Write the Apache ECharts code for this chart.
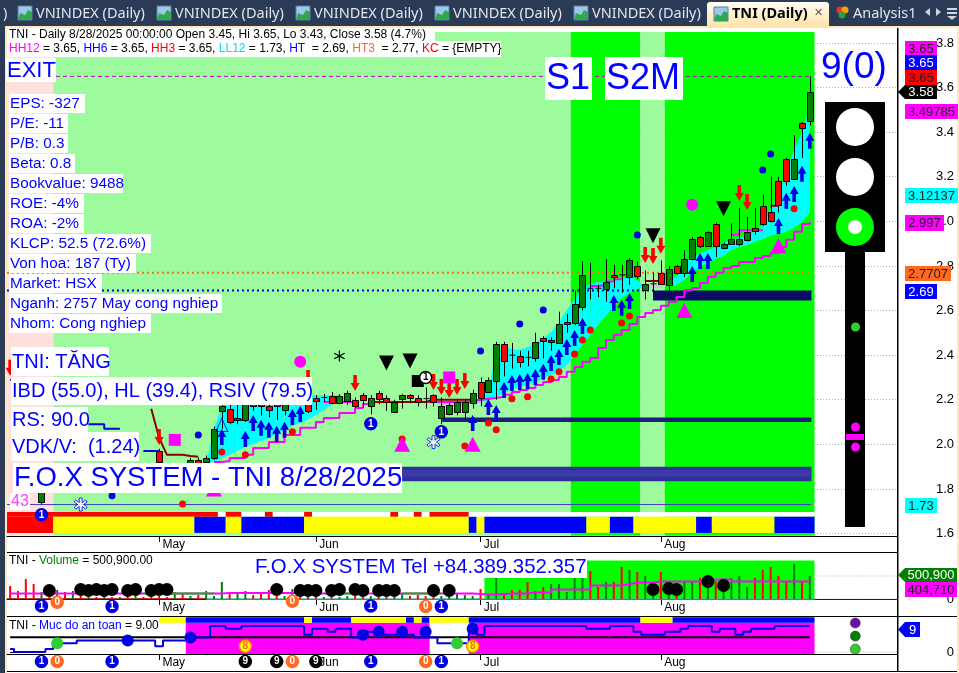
<!DOCTYPE html>
<html>
<head>
<meta charset="utf-8">
<title>TNI (Daily)</title>
<script src="https://cdn.jsdelivr.net/npm/echarts@6/dist/echarts.min.js"></script>
<style>
  html, body { margin: 0; padding: 0; background: #2b3a55; }
  #main { width: 959px; height: 673px; }
</style>
</head>
<body>
<div id="main"></div>
<script>
// x is the bar number, 102 = 8/28/2025
var monthBars = [19, 39, 60, 83];
var monthNames = { 19: 'May', 39: 'Jun', 60: 'Jul', 83: 'Aug' };
var priceTicks = [1.6, 1.8, 2.0, 2.2, 2.4, 2.6, 2.8, 3.0, 3.2, 3.4, 3.6, 3.8];

// open, close, low, high. first entry is bar 4
var firstCandle = 4;
var candles = [
  [1.74,1.85,1.73,1.88],[1.9,1.87,1.85,1.91],[1.88,1.9,1.86,1.91],[1.9,1.87,1.85,1.91],[1.87,1.89,1.85,1.9],
  [1.89,1.86,1.84,1.9],[1.86,1.88,1.84,1.89],[1.88,1.85,1.83,1.89],[1.85,1.87,1.84,1.88],[1.87,1.85,1.83,1.88],
  [1.85,1.86,1.83,1.87],[1.86,1.84,1.82,1.87],[1.84,1.86,1.83,1.88],[1.86,1.84,1.82,1.88],[1.84,1.82,1.8,1.86],
  [1.97,1.92,1.9,1.98],[1.88,1.86,1.84,1.9],[1.86,1.87,1.84,1.89],[1.87,1.85,1.84,1.9],[1.91,1.93,1.9,1.94],
  [1.93,1.91,1.9,1.94],[1.92,1.94,1.91,1.95],[1.94,2.07,1.93,2.08],[2.15,2.17,2.07,2.18],[2.16,2.1,2.09,2.18],
  [2.11,2.12,2.09,2.18],[2.11,2.18,2.1,2.2],[2.18,2.17,2.15,2.22],[2.19,2.17,2.13,2.22],[2.17,2.155,2.12,2.2],
  [2.18,2.17,2.11,2.21],[2.155,2.18,2.13,2.2],[2.2,2.21,2.19,2.23],[2.23,2.21,2.2,2.24],[2.18,2.15,2.14,2.2],
  [2.21,2.195,2.155,2.22],[2.21,2.215,2.19,2.225],[2.215,2.185,2.18,2.235],[2.185,2.215,2.18,2.225],[2.195,2.23,2.177,2.24],
  [2.2,2.17,2.165,2.21],[2.22,2.2,2.165,2.23],[2.17,2.21,2.135,2.22],[2.23,2.205,2.18,2.24],[2.21,2.19,2.15,2.22],
  [2.145,2.19,2.14,2.2],[2.205,2.22,2.16,2.225],[2.22,2.21,2.185,2.225],[2.21,2.19,2.17,2.22],[2.205,2.2,2.16,2.255],
  [2.22,2.19,2.17,2.225],[2.12,2.17,2.09,2.21],[2.135,2.175,2.13,2.185],[2.145,2.19,2.13,2.2],[2.145,2.19,2.11,2.2],
  [2.185,2.23,2.16,2.245],[2.28,2.21,2.17,2.3],[2.235,2.29,2.23,2.3],[2.285,2.45,2.2,2.46],[2.45,2.375,2.305,2.46],
  [2.4,2.395,2.34,2.455],[2.395,2.37,2.345,2.42],[2.39,2.385,2.35,2.42],[2.385,2.46,2.37,2.5],[2.475,2.465,2.385,2.485],
  [2.46,2.47,2.42,2.48],[2.455,2.54,2.45,2.595],[2.54,2.55,2.5,2.585],[2.545,2.63,2.535,2.69],[2.615,2.76,2.6,2.82],
  [2.7,2.695,2.65,2.815],[2.7,2.695,2.66,2.715],[2.695,2.73,2.64,2.83],[2.76,2.75,2.7,2.805],[2.76,2.755,2.68,2.805],
  [2.75,2.825,2.715,2.835],[2.8,2.755,2.74,2.82],[2.69,2.72,2.65,2.78],[2.72,2.72,2.67,2.77],[2.77,2.72,2.715,2.825],
  [2.715,2.785,2.69,2.8],[2.8,2.77,2.76,2.805],[2.77,2.83,2.75,2.87],[2.83,2.92,2.825,2.93],[2.93,2.89,2.88,2.935],
  [2.89,2.95,2.885,2.955],[2.99,2.89,2.84,2.995],[2.88,2.9,2.875,2.905],[2.9,2.92,2.895,2.99],[2.9,2.92,2.89,3.06],
  [2.915,2.95,2.91,3.02],[2.97,2.955,2.94,3.06],[3.07,2.99,2.98,3.12],[3.04,3.0,2.995,3.2],[3.18,3.075,3.04,3.2],
  [3.28,3.18,3.16,3.285],[3.19,3.28,3.185,3.385],[3.44,3.42,3.285,3.445],[3.45,3.58,3.43,3.65]
];

// cloud edges, first entry is bar 25
var firstBand = 25;
var bandFast = [1.92,2.065,2.177,2.177,2.2,2.2,2.2,2.2,2.2,2.2,2.2,2.2,2.2,2.22,2.22,2.22,2.22,2.22,2.21,2.2,
  null,null,null,null,null,null,null,null,null,
  2.195,2.172,2.172,2.175,2.175,2.186,2.199,2.244,2.414,2.437,2.428,2.423,2.437,2.455,2.477,2.504,2.549,2.603,2.648,2.701,
  2.719,2.728,2.733,2.737,2.742,2.751,2.737,2.706,2.701,2.701,2.724,2.76,2.818,2.836,2.858,2.872,2.885,2.903,2.917,2.926,
  2.939,2.957,2.984,3.056,3.114,3.231,3.32,3.401,3.522];
var bandSlow = [1.92,1.92,1.939,1.953,1.97,1.988,2.002,2.015,2.029,2.047,2.065,2.083,2.096,2.11,2.132,2.154,2.177,2.19,2.199,2.2,
  null,null,null,null,null,null,null,null,null,
  2.195,2.19,2.2,2.2,2.2,2.186,2.186,2.195,2.213,2.231,2.244,2.257,2.266,2.28,2.298,2.311,2.329,2.352,2.401,2.446,
  2.491,2.536,2.576,2.616,2.657,2.679,2.697,2.71,2.719,2.728,2.71,2.715,2.737,2.769,2.796,2.813,2.831,2.845,2.872,2.885,
  2.894,2.908,2.921,2.935,2.944,2.953,2.97,2.997,3.042];

// pink step line, first entry is bar 26
var firstStop = 26;
var stopLine = [1.921,1.925,1.939,1.939,1.953,1.984,1.984,2.011,2.011,2.042,2.042,2.074,2.074,2.1,2.118,2.118,2.141,2.141,2.163,2.181,
  2.19,2.19,2.19,2.19,2.19,2.19,2.19,2.19,2.19,2.19,2.19,2.19,2.19,2.199,2.204,2.208,2.213,2.222,2.235,2.244,2.253,2.266,2.28,
  2.289,2.302,2.325,2.347,2.37,2.387,2.432,2.468,2.491,2.513,2.54,2.571,2.589,2.603,2.621,2.639,2.661,2.692,2.701,2.724,2.751,
  2.769,2.791,2.8,2.818,2.818,2.836,2.845,2.858,2.885,2.917,2.953,2.988,2.997];
var upperPink = [[40,2.19],[41,2.19],[42,2.19],[43,2.19],[44,null],[74,2.71],[75,2.715],[76,2.73],[77,2.74],[78,null],
  [92,2.94],[93,2.96],[94,2.96],[95,2.96],[96,null]];
var kcLine = [[18,2.16],[19,2.03],[20,1.953],[21,1.953],[22,1.953],[23,1.948],[24,1.944],[25,null],[29,2.11],[30,2.11],[31,null],
  [46,2.19],[47,2.19],[48,2.19],[49,2.19],[50,2.19],[51,2.19],[52,2.19],[53,2.19],[54,2.2],[55,2.2],[56,2.2],[57,2.2],[58,2.2],[59,2.2],[60,null],
  [81,2.733],[82,2.733],[83,2.733],[84,null],[97,3.07],[98,3.07]];
var leftStep = [[0,2.29],[1,null],[10,2.09],[11,2.09],[12,2.07],[13,2.07],[14,null],[17,1.97],[18,1.97],[19,1.95]];

var HH12 = 3.65, HT = 2.69, HT3 = 2.77, LL12 = 1.73;

var buyArrows = [[27,2.033],[30,2.024],[31,2.096],[32,2.074],[33,2.065],[34,2.047],[35,2.065],[36,2.123],[37,2.136],[59,2.096],
  [61,2.168],[62,2.141],[63,2.244],[64,2.275],[65,2.28],[66,2.284],[67,2.302],[68,2.325],[69,2.365],[70,2.392],[71,2.437],[72,2.477],
  [73,2.531],[77,2.634],[78,2.612],[79,2.643],[87,2.764],[88,2.822],[89,2.822],[98,2.979],[99,3.092],[100,3.123],[101,3.213],[102,3.361]];
var sellArrows = [[0,2.343],[19,2.033],[38,2.298],[44,2.275],[54,2.28],[55,2.257],[56,2.244],[57,2.257],[58,2.284],[81,2.849],[82,2.845],[83,2.89],[93,3.127],[94,3.087]];
var redDots = [[22,1.733],[27,1.966],[30,1.953],[36,2.056],[50,2.024],[58,1.993],[61,2.096],[62,2.065],[64,2.204],[66,2.213],[69,2.293],
  [70,2.325],[72,2.405],[73,2.468],[74,2.513],[78,2.544],[79,2.576],[100,3.056]];
var blueDots = [[13,1.77],[24,2.042],[60,2.419],[65,2.54],[68,2.603],[80,2.939],[96,3.23],[97,3.302]];
var pinkTriangles = [[26,1.8],[50,2.0],[59,2.0],[86,2.6],[98,2.89]];
var hollowTriangles = [[27,2.087]];
var pinkSquares = [[21,2.02],[56,2.3]];
var pinkCircles = [[37,2.37],[87,3.074]];
var blackTriangles = [[48,2.365],[51,2.374],[82,2.935],[91,3.056]];
var blackSquares = [[52,2.284]];
var blackStars = [[42,2.396]];
var blackRings = [[53,2.3]];
var blueOnes = [[4,1.684],[46,2.092],[55,2.056]];
var snowflakes = [[9,1.73],[54,2.01]];

// background zones: from bar, to bar, colour
var priceZones = [[-0.4,5.5,'#ffe0dc'],[5.5,71.5,'#9dfb9d'],[71.5,80.4,'#00ff00'],[80.4,83.5,'#9dfb9d'],[83.5,102.6,'#00ff00']];
var stripTop = [[-0.4,26.5,'#ff0000'],[26.5,27.5,'#ffffff'],[27.5,29.5,'#ff0000'],[29.5,32.5,'#ffffff'],[32.5,33.5,'#ff0000'],
  [33.5,37.5,'#ffffff'],[37.5,38.5,'#ff0000'],[38.5,48.5,'#ffffff'],[48.5,49.5,'#ff0000'],[49.5,51.5,'#ffffff'],[51.5,52.5,'#ff0000'],
  [52.5,53.5,'#ffffff'],[53.5,58.5,'#ff0000'],[58.5,102.6,'#ffffff']];
var stripBottom = [[-0.4,5.5,'#ff0000'],[5.5,23.5,'#ffff00'],[23.5,27.5,'#0000ff'],[27.5,29.5,'#ffff00'],[29.5,37.5,'#0000ff'],
  [37.5,58.5,'#ffff00'],[58.5,59.5,'#0000ff'],[59.5,60.5,'#ffff00'],[60.5,73.5,'#0000ff'],[73.5,76.5,'#ffff00'],[76.5,79.5,'#0000ff'],
  [79.5,87.5,'#ffff00'],[87.5,89.5,'#0000ff'],[89.5,97.5,'#ffff00'],[97.5,102.6,'#0000ff']];
// from bar, to bar, top price, bottom price, colour
var levelBlocks = [[82,102.2,2.69,2.645,'#0c0c66'],[55.1,102.2,2.12,2.1,'#1c1c7c'],[50,102.2,1.9,1.835,'#2f2f97'],[50,102.2,1.885,1.855,'#3a3aa8']];

// volume in thousand shares, bar 0 to bar 102
var volumeK = [283,174,436,327,153,109,196,153,174,65,44,44,65,44,44,44,65,44,44,65,44,153,109,65,87,174,65,371,109,153,174,87,109,196,109,65,218,65,44,65,
  44,44,44,65,65,44,65,44,44,44,131,65,87,65,65,65,65,109,87,65,218,109,480,109,196,196,371,174,262,327,327,153,480,480,610,262,371,371,698,632,
  589,501,65,589,153,109,392,392,458,262,392,174,458,501,262,458,632,698,501,392,763,392,500.9];
var volumeMaK = [120,120,120,120,120,120,120,120,120,120,120,120,120,120,120,120,120,120,120,120,120,120,120,120,120,120,120,130,130,130,130,130,130,130,130,130,130,120,120,120,
  120,120,120,120,120,120,120,120,120,120,120,120,120,120,120,120,120,120,120,110,98,98,110,120,120,120,141,141,141,207,207,207,207,207,294,294,294,294,320,360,
  360,360,381,381,381,381,381,381,381,425,425,425,381,381,381,381,381,381,381,381,381,381,404.71];
var volumeMaGreenBars = [[17,25],[42,44],[50,54]];
var volumeDots = [[5,185],[9,207],[10,185],[11,207],[12,185],[13,207],[15,185],[16,207],[18,185],[19,207],[20,207],[34,207],[37,185],[38,185],[39,185],[41,185],
  [42,207],[44,207],[45,185],[47,185],[48,185],[49,185],[54,185],[56,185],[82,207],[84,229],[85,207],[89,381],[91,294]];
var volumeZone = [[60.5,102.6]];
var volumeLast = 500900;
var volOnes = [[4,-150000],[13,-165000],[46,-150000],[55,-165000]];
var volZeros = [[6,-70000],[36,-50000],[53,-165000]];

// safety level, bar 0 to bar 102
var safety = [1,0,0,0,0,1,2,3,3,4,4,4,4,4,4,4,4,4,4,2,4,4,4,5,5,5,9,9,8,8,9,9,9,9,9,9,9,9,6,8,
  8,7,8,8,5,5,7,7,6,6,6,6,5,5,5,3,3,3,3,8,6,9,9,9,9,9,9,9,9,9,9,9,9,9,8,8,8,9,9,9,
  7,6,6,6,7,7,8,9,9,9,7,8,8,6,7,8,8,8,9,9,9,9,9];
var safetyBase = 5.1;
var safetyDots = [[15,4],[23,5],[45,6],[47,7],[50,7],[53,7],[59,8]];
var safetyLime = [[6,3],[57,3]];
var sideDots = [[107.8,10,'#6a0dad'],[107.8,5.5,'#008000'],[107.8,1,'#32cd32']];
var safetyZones = [[22.4,53.5],[58.5,102.6]];
var safetyStrip = [[19,22.4,'#ffff00'],[22.4,37.5,'#0000ff'],[37.5,38.5,'#ffff00'],[38.5,43.5,'#0000ff'],[43.5,50.5,'#ffff00'],[50.5,51.5,'#0000ff'],
  [51.5,52.5,'#ffff00'],[52.5,53.5,'#0000ff'],[53.5,58.5,'#ffff00'],[58.5,80.4,'#0000ff'],[80.4,84.5,'#ffff00'],[84.5,102.6,'#0000ff']];
var safetyNines = [30,34,39], safetyOnes = [4,13,46,55], safetyZeros = [6,36,53], safetyEights = [30,59];

var fundamentals = ['EPS: -327','P/E: -11','P/B: 0.3','Beta: 0.8','Bookvalue: 9488','ROE: -4%','ROA: -2%','KLCP: 52.5 (72.6%)','Von hoa: 187 (Ty)','Market: HSX','Nganh: 2757 May cong nghiep','Nhom: Cong nghiep'];

var FONT = '"Liberation Sans", Arial, sans-serif';
var myChart = echarts.init(document.getElementById('main'));

// ---- helpers for series
function rectSeries(rows, yIdx, top, bottom, z) {
  return {
    type: 'custom', xAxisIndex: yIdx, yAxisIndex: yIdx, z: z, silent: true,
    data: rows.map(function (r, k) { return [k, r[0], r[1]]; }),
    renderItem: function (p, api) {
      var a = api.coord([api.value(1), top]), b = api.coord([api.value(2), bottom]);
      return { type: 'rect', shape: { x: a[0], y: a[1], width: b[0] - a[0], height: b[1] - a[1] }, style: { fill: rows[p.dataIndex][2] || '#ff00ff' } };
    }
  };
}
function barPoints(list, first) {
  return list.map(function (v, k) { return [first + k, v]; });
}
function line(data, yIdx, color, width, z, extra) {
  return Object.assign({
    type: 'line', xAxisIndex: yIdx, yAxisIndex: yIdx, data: data, symbol: 'none', z: z, silent: true, clip: false,
    lineStyle: { color: color, width: width }
  }, extra || {});
}
function dots(data, yIdx, symbol, size, color, z, extra) {
  return Object.assign({
    type: 'scatter', xAxisIndex: yIdx, yAxisIndex: yIdx, data: data, symbol: symbol, symbolSize: size, z: z, silent: true, clip: false,
    itemStyle: { color: color, opacity: 1 }
  }, extra || {});
}
function badges(bars, yIdx, yVal, text, fill, border, textColor, z) {
  return dots(bars.map(function (b) { return Array.isArray(b) ? b : [b, yVal]; }), yIdx, 'circle', 12, fill, z || 9, {
    itemStyle: { color: fill, borderColor: border, borderWidth: 1.5, opacity: 1 },
    label: { show: true, position: 'inside', formatter: text, color: textColor, fontSize: 10, fontWeight: 'bold', fontFamily: FONT }
  });
}
function dottedRef(yIdx, v) {
  return line([[102.6, v], [113.12, v]], yIdx, '#b0b0b0', 1, 1, { lineStyle: { color: '#b0b0b0', width: 1, type: [1, 2] } });
}

var UP_ARROW = 'path://M5 0L10 8L7 8L7 16L3 16L3 8L0 8Z';
var DOWN_ARROW = 'path://M3 0L7 0L7 8L10 8L5 16L0 8L3 8Z';
var STAR = 'path://M4.5 0H5.5V4L9 2L9.5 3L6 5L9.5 7L9 8L5.5 6V10H4.5V6L1 8L0.5 7L4 5L0.5 3L1 2L4.5 4Z';
var SNOW = 'path://M4 0H6V3.5L8.5 1.5L9.5 3L7 5L9.5 7L8.5 8.5L6 6.5V10H4V6.5L1.5 8.5L0.5 7L3 5L0.5 3L1.5 1.5L4 3.5Z';

// ---- candles and cloud
var candleSeries = {
  type: 'custom', xAxisIndex: 0, yAxisIndex: 0, z: 7, silent: true,
  data: candles.map(function (c, k) { return [firstCandle + k, c[0], c[1], c[2], c[3]]; }),
  renderItem: function (p, api) {
    var x = Math.round(api.coord([api.value(0), 0])[0]) + 0.5;
    var o = api.coord([0, api.value(1)])[1], c = api.coord([0, api.value(2)])[1];
    var l = api.coord([0, api.value(3)])[1], h = api.coord([0, api.value(4)])[1];
    var kids = [{ type: 'line', shape: { x1: x, y1: h, x2: x, y2: l }, style: { stroke: '#000', lineWidth: 1 } }];
    if (Math.abs(o - c) < 1.7) {
      kids.push({ type: 'line', shape: { x1: x - 3, y1: o, x2: x + 3, y2: o }, style: { stroke: '#000', lineWidth: 1 } });
    } else {
      var top = Math.round(Math.min(o, c)) + 0.5, bot = Math.round(Math.max(o, c)) + 0.5;
      kids.push({ type: 'rect', shape: { x: x - 3, y: top, width: 6, height: bot - top },
        style: { fill: c < o ? '#008000' : '#ff0000', stroke: '#000', lineWidth: 1 } });
    }
    return { type: 'group', children: kids };
  }
};
var bandSeries = {
  type: 'custom', xAxisIndex: 0, yAxisIndex: 0, z: 4, silent: true,
  data: bandFast.slice(0, -1).map(function (v, k) { return [firstBand + k, k]; }),
  renderItem: function (p, api) {
    var k = p.dataIndex, i = firstBand + k;
    if (bandFast[k] == null || bandFast[k + 1] == null) return null;
    var cloudUp = bandFast[k] + bandFast[k + 1] >= bandSlow[k] + bandSlow[k + 1];
    return { type: 'polygon', shape: { points: [
      api.coord([i, bandFast[k]]), api.coord([i + 1, bandFast[k + 1]]),
      api.coord([i + 1, bandSlow[k + 1]]), api.coord([i, bandSlow[k]])
    ] }, style: { fill: cloudUp ? '#00ffff' : '#c8c8c8' } };
  }
};
var blockSeries = {
  type: 'custom', xAxisIndex: 0, yAxisIndex: 0, z: 5, silent: true,
  data: levelBlocks.map(function (b, k) { return [b[0], k]; }),
  renderItem: function (p, api) {
    var b = levelBlocks[p.dataIndex], s = api.coord([b[0], b[2]]), e = api.coord([b[1], b[3]]);
    return { type: 'rect', shape: { x: s[0], y: s[1], width: e[0] - s[0], height: e[1] - s[1] }, style: { fill: b[4] } };
  }
};
var volumeBars = {
  type: 'bar', xAxisIndex: 1, yAxisIndex: 1, z: 4, barWidth: 2, silent: true,
  data: volumeK.map(function (v, i) {
    var c = candles[i - firstCandle];
    var down = c ? c[1] < c[0] : true;
    return { value: [i, v * 1000], itemStyle: { color: down ? '#ff0000' : '#008000' } };
  })
};
// green stretches of the volume average
var volumeMaGreen = [];
volumeMaGreenBars.forEach(function (r) {
  for (var i = r[0]; i <= r[1]; i++) volumeMaGreen.push([i, volumeMaK[i] * 1000]);
  volumeMaGreen.push([r[1] + 1, null]);
});

var series = [
  rectSeries(priceZones, 0, 3.849, 1.59, 1),
  rectSeries(stripTop, 0, 1.697, 1.675, 2),
  rectSeries(stripBottom, 0, 1.675, 1.603, 2),
  bandSeries,
  blockSeries,
  line([[-0.4, HH12], [102, HH12]], 0, '#c000c0', 1, 5, { lineStyle: { color: '#c000c0', width: 1, type: [4, 3] } }),
  line([[-0.4, HT3], [102, HT3]], 0, '#ff6a20', 2, 5, { lineStyle: { color: '#ff6a20', width: 2, type: [2, 3] } }),
  line([[-0.4, HT], [82, HT]], 0, '#0000e0', 2, 5, { lineStyle: { color: '#0000e0', width: 2, type: [2, 3] } }),
  line([[-0.4, LL12], [102.2, LL12]], 0, '#4040c0', 1, 5),
  line(barPoints(stopLine, firstStop), 0, '#ff00ff', 2, 6, { step: 'end' }),
  line(upperPink, 0, '#ff00ff', 2, 6, { step: 'end' }),
  line(kcLine, 0, '#8b0000', 2, 6),
  line(leftStep, 0, '#0000e0', 2, 6, { step: 'end' }),
  candleSeries,
  dots(buyArrows, 0, UP_ARROW, [9, 16], '#0000e0', 8),
  dots(sellArrows, 0, DOWN_ARROW, [9, 16], '#ff0000', 8),
  dots(redDots, 0, 'circle', 7, '#ff0000', 8),
  dots(blueDots, 0, 'circle', 7, '#0000e0', 8),
  dots(pinkTriangles, 0, 'triangle', [16, 15], '#ff00ff', 8),
  dots(hollowTriangles, 0, 'triangle', [12, 13], 'none', 8, { itemStyle: { color: 'none', borderColor: '#0000e0', borderWidth: 1 } }),
  dots(pinkSquares, 0, 'rect', 12, '#ff00ff', 8),
  dots(pinkCircles, 0, 'circle', 12, '#ff00ff', 8),
  dots(blackTriangles, 0, 'path://M0 0H10L5 10Z', [15, 15], '#000', 8),
  dots(blackSquares, 0, 'rect', 12, '#000', 8),
  dots(blackStars, 0, STAR, 11, '#000', 8),
  badges(blackRings, 0, 0, '1', '#fff', '#000', '#000'),
  badges(blueOnes, 0, 0, '1', '#0000e0', '#0000e0', '#fff'),
  dots(snowflakes, 0, SNOW, 13, 'none', 8, { itemStyle: { color: '#fff', borderColor: '#0000e0', borderWidth: 1 } }),

  rectSeries(volumeZone.map(function (r) { return [r[0], r[1], '#00ff00']; }), 1, 838000, 0, 1),
  dottedRef(1, volumeLast),
  dottedRef(1, 0),
  line([[-0.4, 0], [25, 0]], 1, '#8b0000', 1.5, 3),
  line([[25, 0], [102.6, 0]], 1, '#40c0a0', 1.5, 3),
  volumeBars,
  line(barPoints(volumeMaK.map(function (v) { return v * 1000; }), 0), 1, '#ff00ff', 2, 5, { step: 'end' }),
  line(volumeMaGreen, 1, '#00c000', 2, 5, { step: 'end' }),
  dots(volumeDots.map(function (d) { return [d[0], d[1] * 1000]; }), 1, 'circle', 13, '#000', 6),
  badges(volOnes, 1, 0, '1', '#0000e0', '#0000e0', '#fff'),
  badges(volZeros, 1, 0, '0', '#ff6a20', '#ff6a20', '#fff'),

  rectSeries(safetyZones.map(function (r) { return [r[0], r[1], '#ff00ff']; }), 2, 10.1, -0.69, 1),
  rectSeries(safetyStrip, 2, 12, 10.1, 2),
  dottedRef(2, 0),
  line([[0, safetyBase], [102, safetyBase]], 2, '#000', 2, 4),
  line(barPoints(safety, 0), 2, '#0000e0', 2, 5, { step: 'middle' }),
  dots(safetyDots, 2, 'circle', 12, '#0000e0', 6),
  dots(safetyLime, 2, 'circle', 12, '#32cd32', 6),
  dots(sideDots.map(function (d) { return { value: [d[0], d[1]], itemStyle: { color: d[2], borderColor: '#333', borderWidth: 0.5 } }; }), 2, 'circle', 10, '#333', 6),
  badges(safetyEights, 2, 2, '8', '#ffff00', '#ff9000', '#ff6a20'),
  badges(safetyNines, 2, -3.3, '9', '#000', '#000', '#fff'),
  badges(safetyOnes, 2, -3.3, '1', '#0000e0', '#0000e0', '#fff'),
  badges(safetyZeros, 2, -3.3, '0', '#ff6a20', '#ff6a20', '#fff')
];

// ---- overlay: tabs, text boxes, traffic light, price tags
var g = [];
function rect(x, y, w, h, fill, z) {
  g.push({ type: 'rect', silent: true, z: z == null ? 100 : z, shape: { x: x, y: y, width: w, height: h }, style: { fill: fill } });
}
function text(x, y, s, size, color, opt) {
  g.push({ type: 'text', silent: true, z: 101, x: x, y: y, style: Object.assign({
    text: s, fill: color, font: size + 'px ' + FONT, verticalAlign: 'middle', align: 'left' }, opt || {}) });
}
function box(x, y, w, h, s, size, color, opt) {
  rect(x, y, w, h, '#fff');
  text(x + 1, y + h / 2 + 0.5, s, size, color || '#0000ff', opt);
}
function circle(cx, cy, r, fill) {
  g.push({ type: 'circle', silent: true, z: 100, shape: { cx: cx, cy: cy, r: r }, style: { fill: fill } });
}
function tag(x, y, w, h, fill, s, color, arrow) {
  rect(x, y, w, h, fill);
  if (arrow) g.push({ type: 'polygon', silent: true, z: 100, shape: { points: [[x, y], [x - 7, y + h / 2], [x, y + h]] }, style: { fill: fill } });
  text(x + w / 2, y + h / 2 + 0.5, s, 13, color, { align: 'center' });
}

// window chrome
rect(5, 26, 954, 647, '#fde9bd', -5);
rect(7, 28, 950, 645, '#ffffff', -4);
[36, 175, 314, 453, 592].forEach(function (x) {
  g.push({ type: 'rect', silent: true, z: 100, shape: { x: x - 18, y: 6, width: 14, height: 14 }, style: { fill: '#9cc8ea', stroke: '#5b7fa8', lineWidth: 1 } });
  g.push({ type: 'polygon', silent: true, z: 100, shape: { points: [[x - 18, 20], [x - 16, 13], [x - 11, 15], [x - 8, 10], [x - 4, 12], [x - 4, 20]] }, style: { fill: '#2fa84f' } });
  text(x, 14, 'VNINDEX (Daily)', 14.5, '#e2e6ee', { font: '14.5px "Noto Sans", sans-serif' });
});
text(3, 14, ')', 14.5, '#e2e6ee', { font: '14.5px "Noto Sans", sans-serif' });
g.push({ type: 'rect', silent: true, z: 100, shape: { x: 707, y: 2, width: 122, height: 25, r: [3, 3, 0, 0] },
  style: { fill: new echarts.graphic.LinearGradient(0, 0, 0, 1, [{ offset: 0, color: '#fffdf5' }, { offset: 1, color: '#fde2a8' }]) } });
g.push({ type: 'rect', silent: true, z: 101, shape: { x: 714, y: 7, width: 14, height: 14 }, style: { fill: '#9cc8ea', stroke: '#5b7fa8', lineWidth: 1 } });
g.push({ type: 'polygon', silent: true, z: 101, shape: { points: [[714, 21], [716, 14], [721, 16], [724, 11], [728, 13], [728, 21]] }, style: { fill: '#2fa84f' } });
text(732, 14, 'TNI (Daily)', 14.5, '#000', { font: 'bold 14.5px "Noto Sans", sans-serif' });
text(814, 13, '✕', 11, '#555', { font: '11px "DejaVu Sans", sans-serif' });
circle(840, 10, 3.5, '#e53935'); circle(845, 10, 3.5, '#f4a300'); circle(842, 15, 3.5, '#2e9e3f');
text(853, 14, 'Analysis1', 14.5, '#e2e6ee', { font: '14.5px "Noto Sans", sans-serif' });
g.push({ type: 'polygon', silent: true, z: 100, shape: { points: [[930, 8], [925, 12], [930, 16]] }, style: { fill: '#cfd6e2' } });
g.push({ type: 'polygon', silent: true, z: 100, shape: { points: [[936, 8], [941, 12], [936, 16]] }, style: { fill: '#cfd6e2' } });
rect(947, 8, 10, 2, '#cfd6e2'); rect(947, 12, 10, 2, '#cfd6e2');
g.push({ type: 'polygon', silent: true, z: 100, shape: { points: [[947, 16], [957, 16], [952, 20]] }, style: { fill: '#cfd6e2' } });

// panel rulers
rect(897, 28, 1.5, 643, '#000', 90);
rect(7, 552, 890, 1, '#000', 90);
rect(7, 616, 950, 1, '#000', 90);
rect(7, 671, 950, 1, '#000', 90);

// titles
rect(7, 28, 428, 13, '#fff');
rect(7, 41, 494, 16, '#fff');
text(9, 34.5, 'TNI - Daily 8/28/2025 00:00:00 Open 3.45, Hi 3.65, Lo 3.43, Close 3.58 (4.7%)', 12, '#000');
g.push({ type: 'text', silent: true, z: 101, x: 9, y: 49, style: {
  text: '{m|HH12} = 3.65, {b|HH6} = 3.65, {r|HH3} = 3.65, {c|LL12} = 1.73, {b|HT}  = 2.69, {o|HT3}  = 2.77, {r|KC} = {EMPTY}',
  font: '12px ' + FONT, fill: '#000', verticalAlign: 'middle',
  rich: { m: { fill: '#ff00ff', font: '12px ' + FONT }, b: { fill: '#0000ff', font: '12px ' + FONT }, r: { fill: '#ff0000', font: '12px ' + FONT },
    c: { fill: '#00e0e0', font: '12px ' + FONT }, o: { fill: '#ff6a20', font: '12px ' + FONT } }
} });

box(6, 58, 50, 24, 'EXIT', 22, '#0000ff');
fundamentals.forEach(function (s, k) {
  var w = [76, 59, 59, 66, 114, 75, 75, 142, 127, 93, 213, 142][k];
  box(9, 94 + k * 20, w, 19, s, 15.3, '#0000ff');
});
box(11, 347, 98, 29, 'TNI: TĂNG', 20);
box(11, 377, 301, 28, 'IBD (55.0), HL (39.4), RSIV (79.5)', 20);
box(11, 407, 77, 25, 'RS: 90.0', 20);
box(11, 432, 128, 29, 'VDK/V:  (1.24)', 20);
box(13, 463, 389, 30, 'F.O.X SYSTEM - TNI 8/28/2025', 27.5);
box(10, 493, 20, 17, '43', 16, '#ff40ff');
box(545, 57, 47, 43, 'S1', 36);
box(605, 57, 78, 43, 'S2M', 36);
box(254, 555, 333, 23, 'F.O.X SYSTEM Tel +84.389.352.357', 20.4);
text(821, 68, '9(0)', 37, '#0000ff');

g.push({ type: 'text', silent: true, z: 101, x: 9, y: 561, style: { text: 'TNI - {g|Volume} = 500,900.00', font: '12px ' + FONT, fill: '#000', verticalAlign: 'middle',
  rich: { g: { fill: '#008000', font: '12px ' + FONT } } } });
g.push({ type: 'text', silent: true, z: 101, x: 9, y: 626, style: { text: 'TNI - {b|Muc do an toan} = 9.00', font: '12px ' + FONT, fill: '#000', verticalAlign: 'middle',
  rich: { b: { fill: '#0000ff', font: '12px ' + FONT } } } });

// traffic light
rect(825, 102, 60, 150, '#000');
rect(845, 252, 20, 275, '#000');
circle(855, 127, 19, '#fff');
circle(855, 177, 19, '#fff');
circle(855, 227, 19, '#00ff00');
circle(855, 227, 7, '#fff');
circle(855.5, 327, 4.5, '#32cd32');
circle(855.5, 427, 4.5, '#ff00ff');
rect(846, 434, 18, 6, '#ff00ff');
circle(855.5, 447, 4.5, '#ff00ff');

// price tags
tag(905, 41, 32, 15, '#ff00ff', '3.65', '#222');
tag(905, 55, 32, 15, '#0000ff', '3.65', '#fff');
tag(905, 70, 32, 15, '#ff0000', '3.65', '#222');
tag(905, 85, 32, 14, '#000000', '3.58', '#fff', true);
tag(905, 104, 53, 15, '#ff00ff', '3.49785', '#222');
tag(905, 188, 53, 15, '#00ffff', '3.12137', '#222');
tag(905, 215, 39, 16, '#ff00ff', '2.997', '#222');
tag(905, 266, 46, 15, '#ff6a20', '2.7707', '#222');
tag(905, 284, 32, 15, '#0000ff', '2.69', '#fff');
tag(905, 498, 32, 15, '#00ffff', '1.73', '#222');
tag(905, 568, 52, 14, '#008000', '500,900', '#fff', true);
tag(905, 582, 52, 15, '#ff00ff', '404,710', '#222');
tag(905, 622, 15, 15, '#0000ff', '9', '#fff', true);

function xAxis(idx) {
  return {
    type: 'value', gridIndex: idx, min: -0.4, max: 113.12, splitLine: { show: false },
    axisLine: { onZero: false, lineStyle: { color: '#000', width: 1 } },
    axisTick: { customValues: monthBars, length: 6, lineStyle: { color: '#000' } },
    axisLabel: { customValues: monthBars, align: 'left', margin: 3, color: '#000', fontSize: 12, fontFamily: FONT,
      formatter: function (v) { return ' ' + (monthNames[v] || ''); } }
  };
}
function yAxis(idx, min, max, ticks) {
  return {
    type: 'value', gridIndex: idx, position: 'right', min: min, max: max,
    axisLine: { show: false },
    splitLine: { show: idx === 0, lineStyle: { color: '#b0b0b0', type: [1, 2] } },
    axisTick: { customValues: ticks, length: 4, lineStyle: { color: '#000' } },
    axisLabel: { customValues: ticks, align: 'right', margin: 57, color: '#000', fontSize: 13, fontFamily: FONT,
      formatter: function (v) { return idx === 0 ? v.toFixed(1) : String(v); } }
  };
}

var option = {
  animation: false,
  textStyle: { fontFamily: FONT },
  graphic: { elements: g },
  grid: [
    { left: 7, width: 890, top: 28, height: 508 },
    { left: 7, width: 890, top: 552, height: 47 },
    { left: 7, width: 890, top: 617, height: 37 }
  ],
  xAxis: [xAxis(0), xAxis(1), xAxis(2)],
  yAxis: [
    yAxis(0, 1.589, 3.867, priceTicks),
    yAxis(1, 0, 1024000, [0]),
    yAxis(2, -0.69, 12.1, [0])
  ],
  series: series
};
myChart.setOption(option);
</script>
</body>
</html>
